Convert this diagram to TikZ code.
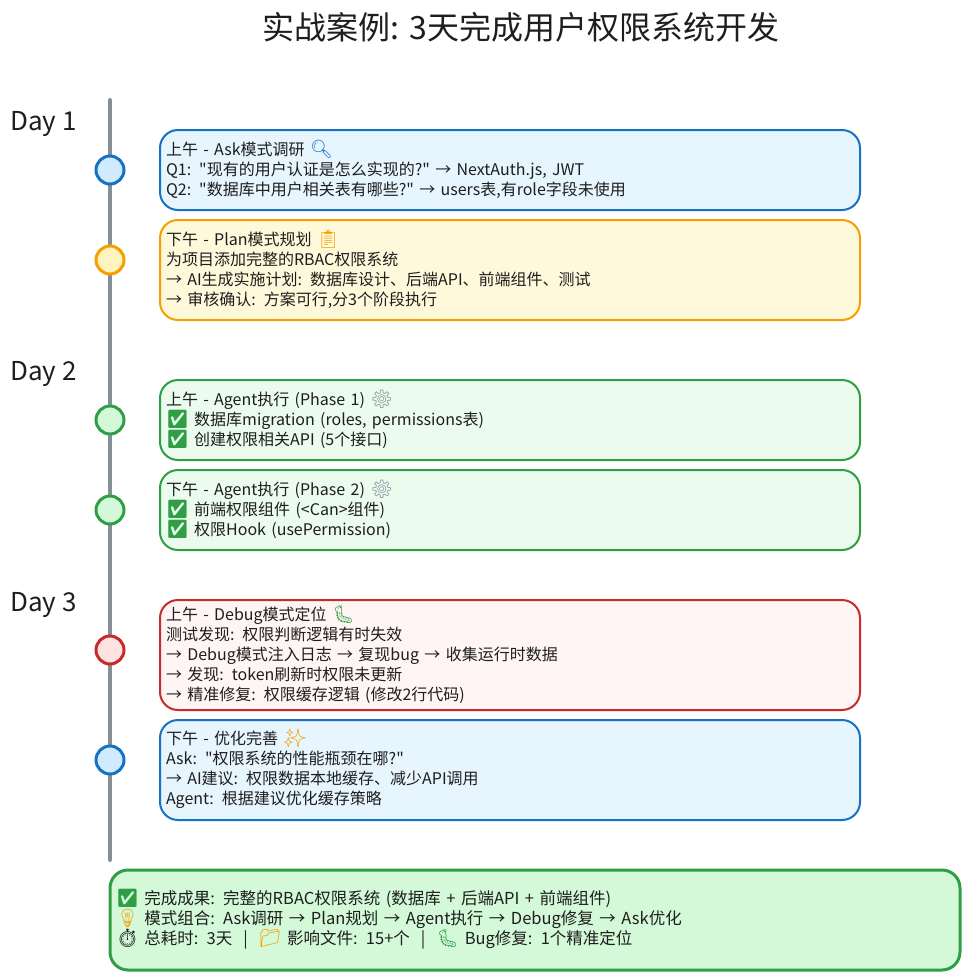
\documentclass[tikz,border=0pt]{standalone}
\usepackage{fontspec}
\setmainfont{Noto Sans CJK SC}[Ligatures=TeXOff]
\newfontfamily\emojifont{Noto Emoji}
\usepackage{xcolor}
\usetikzlibrary{positioning, calc}

\definecolor{bluedark}{HTML}{1971C2}
\definecolor{bluepale}{HTML}{E7F5FF}
\definecolor{bluedot}{HTML}{D0EBFF}
\definecolor{orangedark}{HTML}{F59F00}
\definecolor{orangepale}{HTML}{FFF9DB}
\definecolor{orangedot}{HTML}{FFF3BF}
\definecolor{greendark}{HTML}{2F9E44}
\definecolor{greenpale}{HTML}{EBFBEE}
\definecolor{greendot}{HTML}{D3F9D8}
\definecolor{reddark}{HTML}{C92A2A}
\definecolor{redpale}{HTML}{FFF5F5}
\definecolor{reddot}{HTML}{FFE3E3}
\definecolor{linegray}{HTML}{868E96}
\definecolor{inkblack}{HTML}{1E1E1E}

\newcommand{\emo}[2]{\smash{\fontsize{18pt}{20pt}\selectfont\emojifont\textcolor{#1}{#2}}}

\tikzset{
  card/.style={draw=#1dark, fill=#1pale, line width=2pt, rounded corners=18pt, anchor=north west,
    minimum width=700pt, inner sep=0pt, outer sep=0pt, text width=688pt, align=left, text=inkblack,
    font=\fontsize{16pt}{20pt}\selectfont},
  dot/.style={circle, draw=#1dark, fill=#1dot, line width=3pt, minimum size=28pt, inner sep=0pt},
  daylabel/.style={anchor=west, inner sep=0pt, text=inkblack, font=\fontsize{26pt}{30pt}\selectfont},
}

\begin{document}
\begin{tikzpicture}[x=1pt, y=-1pt]
  \useasboundingbox (0, 0) rectangle (970, 980);

  \node [text=inkblack, font=\fontsize{32pt}{36pt}\selectfont] (title) at (521, 27) {实战案例: 3天完成用户权限系统开发};

  \coordinate (linetop) at (110, 100);
  \coordinate (linebottom) at (110, 860);
  \draw [line width=4pt, color=linegray, line cap=round] (linetop) -- (linebottom);

  \node [daylabel] (day1) at (10, 124) {Day 1};
  \node [daylabel] (day2) at (10, 374) {Day 2};
  \node [daylabel] (day3) at (10, 605) {Day 3};

  \node [dot=blue] (dot1) at (110, 170) {};
  \node [dot=orange] (dot2) at (110, 260) {};
  \node [dot=green] (dot3) at (110, 420) {};
  \node [dot=green] (dot4) at (110, 510) {};
  \node [dot=red] (dot5) at (110, 650) {};
  \node [dot=blue] (dot6) at (110, 760) {};

  \node [card=blue, minimum height=80pt] (card1) at (160, 130) {上午 - Ask模式调研 \emo{bluedark}{🔍}\\
    Q1: "现有的用户认证是怎么实现的?" → NextAuth.js, JWT\\
    Q2: "数据库中用户相关表有哪些?" → users表,有role字段未使用};
  \node [card=orange, minimum height=100pt] (card2) at (160, 220) {下午 - Plan模式规划 \emo{orangedark}{📋}\\
    为项目添加完整的RBAC权限系统\\
    → AI生成实施计划: 数据库设计、后端API、前端组件、测试\\
    → 审核确认: 方案可行,分3个阶段执行};
  \node [card=green, minimum height=80pt] (card3) at (160, 380) {上午 - Agent执行 (Phase 1) \emo{linegray}{⚙}\\
    \emo{greendark}{✅} 数据库migration (roles, permissions表)\\
    \emo{greendark}{✅} 创建权限相关API (5个接口)};
  \node [card=green, minimum height=80pt] (card4) at (160, 470) {下午 - Agent执行 (Phase 2) \emo{linegray}{⚙}\\
    \emo{greendark}{✅} 前端权限组件 (<Can>组件)\\
    \emo{greendark}{✅} 权限Hook (usePermission)};
  \node [card=red, minimum height=110pt] (card5) at (160, 600) {上午 - Debug模式定位 \emo{greendark}{🐛}\\
    测试发现: 权限判断逻辑有时失效\\
    → Debug模式注入日志 → 复现bug → 收集运行时数据\\
    → 发现: token刷新时权限未更新\\
    → 精准修复: 权限缓存逻辑 (修改2行代码)};
  \node [card=blue, minimum height=100pt] (card6) at (160, 720) {下午 - 优化完善 \emo{orangedark}{✨}\\
    Ask: "权限系统的性能瓶颈在哪?"\\
    → AI建议: 权限数据本地缓存、减少API调用\\
    Agent: 根据建议优化缓存策略};

  \node [card=green, fill=greendot, line width=3pt, minimum width=850pt, text width=838pt, minimum height=100pt, font=\fontsize{16.5pt}{20pt}\selectfont] (result) at (110, 870) {\emo{greendark}{✅} 完成成果: 完整的RBAC权限系统 (数据库 + 后端API + 前端组件)\\
    \emo{orangedark}{💡} 模式组合: Ask调研 → Plan规划 → Agent执行 → Debug修复 → Ask优化\\
    \emo{inkblack}{⏱} 总耗时: 3天 \ | \ \emo{orangedark}{📁} 影响文件: 15+个 \ | \ \emo{greendark}{🐛} Bug修复: 1个精准定位};
\end{tikzpicture}
\end{document}
